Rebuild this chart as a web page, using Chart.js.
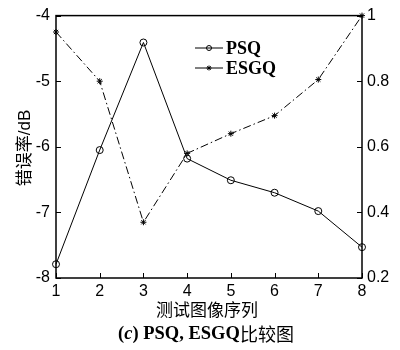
<!DOCTYPE html>
<html>
<head>
<meta charset="utf-8">
<script src="https://cdn.jsdelivr.net/npm/chart.js@4/dist/chart.umd.min.js"></script>
<style>
  html, body { margin: 0; padding: 0; background: #fff; }
  #wrap { width: 400px; height: 350px; }
</style>
</head>
<body>
<div id="wrap"><canvas id="myChart" width="400" height="350"></canvas></div>
<script>
// values
const images = [1, 2, 3, 4, 5, 6, 7, 8];
const psq = [-7.79, -6.05, -4.41, -6.18, -6.51, -6.70, -6.98, -7.53];
const esgq = [0.95, 0.80, 0.37, 0.58, 0.64, 0.695, 0.805, 1.0];
const leftTicks = [-8, -7, -6, -5, -4];
const rightTicks = [0.2, 0.4, 0.6, 0.8, 1];

const serif = '"Liberation Serif", "DejaVu Serif", serif';
const sans = '"Liberation Sans", Arial, sans-serif';
const cjk = '"Noto Sans CJK SC", sans-serif';

const frame = {
  id: 'frame',
  afterDraw(chart) {
    const ctx = chart.ctx;
    const a = chart.chartArea;
    const x = chart.scales.x, y = chart.scales.y, y1 = chart.scales.y1;
    ctx.save();
    ctx.strokeStyle = '#000';
    ctx.lineWidth = 1.5;
    ctx.strokeRect(a.left, a.top, a.right - a.left, a.bottom - a.top);
    // inward ticks
    ctx.lineWidth = 1;
    ctx.beginPath();
    leftTicks.forEach(v => {
      const py = Math.round(y.getPixelForValue(v)) + 0.5;
      ctx.moveTo(a.left, py); ctx.lineTo(a.left + 5, py);
    });
    rightTicks.forEach(v => {
      const py = Math.round(y1.getPixelForValue(v)) + 0.5;
      ctx.moveTo(a.right, py); ctx.lineTo(a.right - 5, py);
    });
    images.forEach(v => {
      const px = Math.round(x.getPixelForValue(v)) + 0.5;
      ctx.moveTo(px, a.bottom); ctx.lineTo(px, a.bottom - 5);
    });
    ctx.stroke();

    // legend
    const sets = chart.data.datasets;
    const ly = [48, 68];
    sets.forEach((ds, i) => {
      ctx.beginPath();
      ctx.setLineDash([]);
      ctx.lineWidth = 1;
      ctx.moveTo(195, ly[i]); ctx.lineTo(223, ly[i]);
      ctx.stroke();
      Chart.helpers.drawPoint(ctx, {pointStyle: ds.pointStyle, radius: 2.5, rotation: 0, borderWidth: 1}, 209, ly[i]);
      ctx.fillStyle = '#000';
      ctx.font = 'bold 18px ' + serif;
      ctx.textBaseline = 'middle';
      ctx.textAlign = 'left';
      ctx.fillText(ds.label, 226, ly[i] + 1);
    });

    // axis title
    ctx.save();
    ctx.translate(24, 148);
    ctx.rotate(-Math.PI / 2);
    ctx.textAlign = 'left';
    ctx.textBaseline = 'middle';
    const t1 = '错误率';
    ctx.font = '17px ' + sans;
    const w2 = ctx.measureText('/dB').width;
    ctx.font = '17px ' + cjk;
    const w1 = ctx.measureText(t1).width;
    let sx = -(w1 + w2) / 2;
    ctx.fillText(t1, sx, 0);
    ctx.font = '17px ' + sans;
    ctx.fillText('/dB', sx + w1, 1);
    ctx.restore();

    ctx.textAlign = 'center';
    ctx.textBaseline = 'middle';
    ctx.font = '17px ' + cjk;
    ctx.fillText('测试图像序列', 207, 310);

    // caption
    const parts = [
      ['(', 'bold 18.5px ' + serif],
      ['c', 'italic bold 18.5px ' + serif],
      [') PSQ, ESGQ', 'bold 18.5px ' + serif],
      ['比较图', '18px ' + cjk]
    ];
    let total = 0;
    parts.forEach(p => { ctx.font = p[1]; total += ctx.measureText(p[0]).width; });
    let cx = 206 - total / 2;
    ctx.textAlign = 'left';
    parts.forEach(p => {
      ctx.font = p[1];
      ctx.fillText(p[0], cx, 334);
      cx += ctx.measureText(p[0]).width;
    });
    ctx.restore();
  }
};

new Chart(document.getElementById('myChart'), {
  type: 'line',
  data: {
    datasets: [
      {
        label: 'PSQ',
        data: images.map((v, i) => ({x: v, y: psq[i]})),
        yAxisID: 'y',
        borderColor: '#000',
        backgroundColor: 'rgba(0,0,0,0)',
        borderWidth: 1,
        pointStyle: 'circle',
        pointRadius: 3.5,
        pointBorderColor: '#000',
        pointBorderWidth: 1,
        pointBackgroundColor: 'rgba(0,0,0,0)',
        tension: 0,
        clip: false
      },
      {
        label: 'ESGQ',
        data: images.map((v, i) => ({x: v, y: esgq[i]})),
        yAxisID: 'y1',
        borderColor: '#000',
        backgroundColor: '#000',
        borderWidth: 1,
        borderDash: [8, 3, 1.5, 3],
        pointStyle: 'star',
        pointRadius: 3,
        pointBorderColor: '#000',
        pointBorderWidth: 1,
        tension: 0,
        clip: false
      }
    ]
  },
  options: {
    responsive: false,
    animation: false,
    events: [],
    layout: { padding: { top: 13, left: 0, right: 0, bottom: 0 } },
    plugins: { legend: { display: false }, tooltip: { enabled: false } },
    scales: {
      x: {
        type: 'linear',
        min: 1, max: 8,
        grid: { display: false, drawTicks: false },
        border: { display: false },
        afterFit: s => { s.height = 72; },
        afterBuildTicks: s => { s.ticks = images.map(v => ({value: v})); },
        ticks: { color: '#000', font: { family: sans, size: 16 }, padding: 4, maxRotation: 0 }
      },
      y: {
        position: 'left',
        min: -8, max: -4,
        grid: { display: false, drawTicks: false },
        border: { display: false },
        afterFit: s => { s.width = 56; },
        afterBuildTicks: s => { s.ticks = leftTicks.map(v => ({value: v})); },
        ticks: { color: '#000', font: { family: sans, size: 16 }, padding: 6 }
      },
      y1: {
        position: 'right',
        min: 0.2, max: 1,
        grid: { display: false, drawTicks: false },
        border: { display: false },
        afterFit: s => { s.width = 38; },
        afterBuildTicks: s => { s.ticks = rightTicks.map(v => ({value: v})); },
        ticks: { color: '#000', font: { family: sans, size: 16 }, padding: 5,
          callback: v => String(+v.toFixed(1)) }
      }
    }
  },
  plugins: [frame]
});
</script>
</body>
</html>
